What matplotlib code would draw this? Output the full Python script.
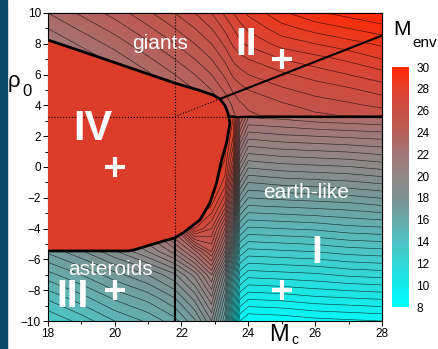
import matplotlib
matplotlib.use('Agg')
import matplotlib.pyplot as plt
import numpy as np
from matplotlib.colors import LinearSegmentedColormap, Normalize
from matplotlib.cm import ScalarMappable
from matplotlib.ticker import MultipleLocator
from matplotlib.patches import Rectangle

plt.rcParams['font.family'] = ['Liberation Sans', 'DejaVu Sans']

# grid of M_env values
m_c = [18, 19, 20, 21, 21.8, 22.4, 22.9, 23.3, 23.55, 23.75, 24, 25, 26, 27, 28]
rho_0 = [-10, -8.5, -7, -5.5, -4, -2.5, -1, 0.5, 2, 3.2, 3.35, 4, 5, 6, 7, 8, 9, 10]
m_env = [
    [13.5, 14.2, 15.0, 15.6, 16.3, 17.4, 19.0, 16.0, 12.0, 9.0, 8.5, 8.6, 8.8, 8.9, 9.0],
    [14.6, 15.3, 16.1, 16.7, 17.5, 18.7, 20.4, 17.3, 13.4, 10.6, 10.1, 10.2, 10.4, 10.5, 10.6],
    [15.8, 16.5, 17.3, 18.0, 18.9, 20.2, 22.0, 18.8, 15.0, 12.2, 11.7, 11.8, 11.9, 12.1, 12.2],
    [17.1, 17.9, 18.9, 20.0, 21.2, 22.8, 24.5, 21.5, 17.2, 13.8, 13.3, 13.4, 13.5, 13.7, 13.8],
    [18.5, 19.3, 20.3, 21.5, 23.5, 27.0, 26.0, 23.5, 19.5, 15.5, 14.9, 15.0, 15.1, 15.3, 15.4],
    [28.5, 28.5, 28.5, 28.5, 28.5, 28.5, 27.5, 25.8, 22.0, 17.2, 16.5, 16.6, 16.7, 16.8, 17.0],
    [28.5, 28.5, 28.5, 28.5, 28.5, 28.5, 28.3, 27.3, 24.0, 19.0, 18.0, 18.2, 18.3, 18.4, 18.6],
    [28.5, 28.5, 28.5, 28.5, 28.5, 28.5, 28.5, 28.0, 25.8, 20.8, 19.6, 19.8, 19.9, 20.0, 20.2],
    [28.5, 28.5, 28.5, 28.5, 28.5, 28.5, 28.5, 28.3, 27.0, 22.6, 21.2, 21.4, 21.5, 21.6, 21.7],
    [28.5, 28.5, 28.5, 28.5, 28.5, 28.5, 28.5, 28.3, 27.5, 24.0, 22.5, 22.6, 22.8, 22.9, 23.0],
    [19.7, 20.3, 20.9, 21.6, 22.2, 22.7, 23.2, 23.7, 24.4, 24.7, 24.9, 25.2, 25.4, 25.55, 25.7],
    [20.0, 20.6, 21.2, 21.9, 22.5, 23.0, 23.5, 24.1, 24.6, 24.9, 25.1, 25.4, 25.7, 25.9, 26.1],
    [20.5, 21.1, 21.7, 22.4, 23.0, 23.5, 24.0, 24.6, 25.1, 25.3, 25.5, 25.9, 26.2, 26.4, 26.7],
    [21.0, 21.6, 22.2, 22.9, 23.5, 24.0, 24.5, 25.1, 25.6, 25.8, 26.0, 26.4, 26.7, 27.0, 27.3],
    [21.5, 22.1, 22.7, 23.4, 24.0, 24.5, 25.0, 25.6, 26.1, 26.3, 26.5, 27.0, 27.3, 27.6, 28.0],
    [22.0, 22.6, 23.2, 23.9, 24.5, 25.0, 25.5, 26.1, 26.6, 26.9, 27.1, 27.7, 28.0, 28.3, 28.6],
    [22.5, 23.1, 23.7, 24.4, 25.0, 25.5, 26.0, 26.6, 27.0, 27.3, 27.6, 28.3, 28.7, 29.0, 29.3],
    [23.0, 23.6, 24.2, 24.9, 25.5, 26.0, 26.5, 27.1, 27.5, 27.8, 28.1, 28.9, 29.4, 29.7, 30.0],
]

# boundary of region IV
iv_mc = [18, 19, 20, 21, 21.8, 22.5, 22.95, 23.15, 23.3, 23.39, 23.45, 23.4, 23.35,
         23.2, 23.05, 22.85, 22.55, 22.04, 21.8, 21.25, 20.55, 20.4, 18]
iv_rho = [8.25, 7.52, 6.78, 6.04, 5.45, 5.0, 4.67, 4.42, 4.0, 3.5, 2.86, 2.2, 1.56,
          0.45, -1.04, -2.34, -3.44, -4.29, -4.6, -4.94, -5.4, -5.45, -5.45]

# sample points
pts_mc = [20, 25, 20, 25]
pts_rho = [0, 7, -8, -8]

cb_ticks = [8, 10, 12, 14, 16, 18, 20, 22, 24, 26, 28, 30]
cmap_vals = [8, 10, 12, 14, 16, 18, 20, 22, 24, 26, 28, 30]
cmap_cols = ['#00ffff', '#14ebeb', '#32d7d7', '#50c3c3', '#69aaaa', '#7d9191',
             '#918787', '#a07878', '#b95f5a', '#c85046', '#e1412d', '#ff2800']

cmap = LinearSegmentedColormap.from_list(
    'menv', [((v - 8) / 22, c) for v, c in zip(cmap_vals, cmap_cols)])
norm = Normalize(8, 30)

fig = plt.figure(figsize=(4.39, 3.49), dpi=100)
fig.patches.append(Rectangle((0, 0), 7 / 439, 1, transform=fig.transFigure,
                             color='#0b4b69', zorder=0))
ax = fig.add_axes([0.109, 0.0802, 0.761, 0.8826])

Z = np.array(m_env)
ax.pcolormesh(m_c, rho_0, Z, shading='gouraud', cmap=cmap, norm=norm)
ax.contour(m_c, rho_0, Z, levels=np.arange(8, 30.01, 0.5), colors='k',
           linewidths=0.45, alpha=0.7)

ax.fill(iv_mc, iv_rho, facecolor='#dc3c2a', edgecolor='none', zorder=3)
ax.plot(iv_mc, iv_rho, color='k', lw=2, zorder=4)

# region borders
ax.plot([23.45, 28], [3.27, 3.27], color='k', lw=1.5, zorder=5)
ax.plot([23.15, 28], [4.42, 8.53], color='k', lw=1.5, zorder=5)
ax.plot([21.8, 21.8], [-10, -4.6], color='k', lw=1.5, zorder=5)
ax.plot([21.8, 21.8], [-4.6, 10], color='k', lw=0.8, ls=':', zorder=5)
ax.plot([18, 23.4], [3.27, 3.27], color='k', lw=0.8, ls=':', zorder=5)
ax.plot([21.8, 23.15], [3.27, 4.42], color='k', lw=0.8, ls=':', zorder=5)

ax.plot(pts_mc, pts_rho, ls='none', marker='+', ms=15, mew=3, color='w', zorder=6)

ax.text(21.37, 7.69, 'giants', fontsize=15, color='w', ha='center', va='baseline', zorder=6)
ax.text(19.87, -7.01, 'asteroids', fontsize=15, color='w', ha='center', va='baseline', zorder=6)
ax.text(25.72, -2.01, 'earth-like', fontsize=15, color='w', ha='center', va='baseline', zorder=6)
ax.text(23.93, 7.27, 'II', fontsize=28, fontweight='bold', color='w', ha='center', va='baseline', zorder=6)
ax.text(19.36, 1.75, 'IV', fontsize=30, fontweight='bold', color='w', ha='center', va='baseline', zorder=6)
ax.text(18.75, -9.09, 'III', fontsize=28, fontweight='bold', color='w', ha='center', va='baseline', zorder=6)
ax.text(26.05, -6.23, 'I', fontsize=28, fontweight='bold', color='w', ha='center', va='baseline', zorder=6)

ax.set_xlim(18, 28)
ax.set_ylim(-10, 10)
ax.xaxis.set_major_locator(MultipleLocator(2))
ax.xaxis.set_minor_locator(MultipleLocator(1))
ax.yaxis.set_major_locator(MultipleLocator(2))
ax.yaxis.set_minor_locator(MultipleLocator(1))
ax.tick_params(which='both', direction='out', labelsize=8.5, width=0.7, pad=1.5)
ax.tick_params(which='major', length=3.5)
ax.tick_params(which='minor', length=2)
for s in ax.spines.values():
    s.set_linewidth(0.8)

top = ax.secondary_xaxis('top')
top.xaxis.set_major_locator(MultipleLocator(1))
top.tick_params(direction='in', length=3, width=0.7, labeltop=False)
right = ax.secondary_yaxis('right')
right.yaxis.set_major_locator(MultipleLocator(1))
right.tick_params(direction='in', length=3, width=0.7, labelright=False)

fig.text(0.018, 0.751, 'ρ', fontsize=16)
fig.text(0.050, 0.725, '0', fontsize=12)
fig.text(0.612, 0.022, 'M', fontsize=17)
fig.text(0.664, 0.013, 'c', fontsize=10)
fig.text(0.895, 0.900, 'M', fontsize=15)
fig.text(0.9385, 0.865, 'env', fontsize=11)

cax = fig.add_axes([0.893, 0.120, 0.039, 0.688])
cb = fig.colorbar(ScalarMappable(norm=norm, cmap=cmap), cax=cax, ticks=cb_ticks)
cb.outline.set_visible(False)
cax.tick_params(labelsize=8.5, length=0, pad=5)

fig.savefig('out.png', dpi=100)
